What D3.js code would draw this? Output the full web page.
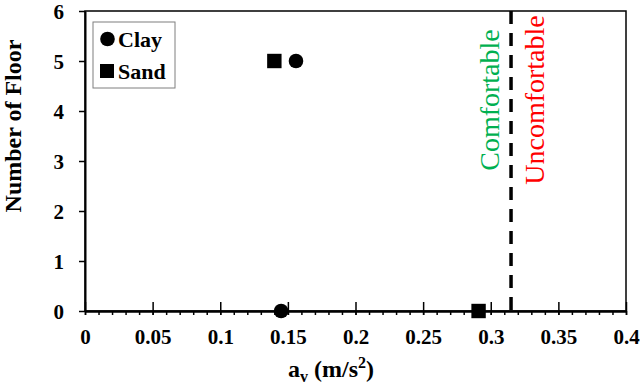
<html lang="en">
<head>
<script src="https://cdn.jsdelivr.net/npm/d3@7/dist/d3.min.js"></script>
</head>
<style>
body{margin:0;background:#fff;}
text{font-family:"Liberation Serif","Times New Roman",serif;}
</style>
<body>
<div id="drawarea"></div>
<script>
// values
const floors=[5,0]
const clayAv=[0.156,0.145]
const sandAv=[0.140,0.291]
const limitAv=0.315
const xTickVals=[0,0.05,0.1,0.15,0.2,0.25,0.3,0.35,0.4]
const xTickLabels=["0","0.05","0.1","0.15","0.2","0.25","0.3","0.35","0.4"]
const yTickVals=[0,1,2,3,4,5,6]
const legendNames=["Clay","Sand"]

const W=640,H=392
const m={left:85,right:626,top:11,bottom:311}

svg=d3.select("#drawarea").append("svg").attr("width",W).attr("height",H)

x=d3.scaleLinear().domain([0,0.4]).range([m.left,m.right])
y=d3.scaleLinear().domain([0,6]).range([m.bottom,m.top])

//plot frame
svg.append("rect").attr("x",m.left).attr("y",m.top).attr("width",m.right-m.left).attr("height",m.bottom-m.top)
  .style("fill","none").style("stroke","#000").style("stroke-width",1.5)

//x axis: minor ticks outside, major ticks crossing
gxMinor=svg.append("g").attr("transform","translate(0,"+m.bottom+")")
  .call(d3.axisBottom(x).ticks(40).tickSize(4).tickSizeOuter(0).tickFormat(""))
gxMajor=svg.append("g").attr("transform","translate(0,"+m.bottom+")")
  .call(d3.axisBottom(x).tickValues(xTickVals).tickSizeInner(-9).tickSizeOuter(0).tickPadding(18)
  .tickFormat((d,i)=>xTickLabels[i]))
gxMajor.selectAll(".tick line").clone().attr("y2",4)
svg.selectAll("g path.domain").style("stroke-width",2)
gxMinor.selectAll("line").style("stroke-width",1.5)
gxMajor.selectAll("line").style("stroke-width",1.5)
gxMajor.selectAll("text").style("font-size","21px").style("font-weight","bold")
  .style("font-family","'Liberation Serif',serif").attr("dy","0.71em")

//y axis
gy=svg.append("g").attr("transform","translate("+m.left+",0)")
  .call(d3.axisLeft(y).tickValues(yTickVals).tickSize(6).tickSizeOuter(0).tickPadding(15).tickFormat(d3.format("d")))
gy.select("path.domain").style("stroke-width",2)
gy.selectAll("line").style("stroke-width",1.5)
gy.selectAll("text").style("font-size","21px").style("font-weight","bold")
  .style("font-family","'Liberation Serif',serif").attr("dy","0.34em")

//comfort limit
svg.append("line").attr("x1",x(limitAv)).attr("x2",x(limitAv)).attr("y1",y(6)).attr("y2",y(0))
  .style("stroke","#000").style("stroke-width",3.5).style("stroke-dasharray","13,9")
svg.append("text").text("Comfortable").attr("transform","translate("+(x(limitAv)-12)+",100) rotate(-90)")
  .style("text-anchor","middle").style("font-size","28px").style("fill","#00b050")
svg.append("text").text("Uncomfortable").attr("transform","translate("+(x(limitAv)+33)+",100) rotate(-90)")
  .style("text-anchor","middle").style("font-size","28px").style("fill","#ff0000")

//points
pts=svg.append("g")
pts.selectAll("circle").data(floors).enter().append("circle")
  .attr("cx",(d,i)=>x(clayAv[i])).attr("cy",d=>y(d)).attr("r",7.3).style("fill","#000")
pts.selectAll("rect").data(floors).enter().append("rect")
  .attr("x",(d,i)=>x(sandAv[i])-7.2).attr("y",d=>y(d)-7.2).attr("width",14.4).attr("height",14.4).style("fill","#000")

//legend
lg=svg.append("g")
lg.append("rect").attr("x",93).attr("y",22).attr("width",82).attr("height",66)
  .style("fill","#fff").style("stroke","#7f7f7f").style("stroke-width",1)
lg.append("circle").attr("cx",107.5).attr("cy",39).attr("r",7.3).style("fill","#000")
lg.append("rect").attr("x",100).attr("y",64).attr("width",14).attr("height",14).style("fill","#000")
lg.selectAll("text").data(legendNames).enter().append("text").text(d=>d)
  .attr("x",118).attr("y",(d,i)=>46.5+i*32).style("font-size","22px").style("font-weight","bold")

//axis titles
svg.append("text").attr("transform","translate(21,126) rotate(-90)").style("text-anchor","middle")
  .style("font-size","24px").style("font-weight","bold").text("Number of Floor")
xt=svg.append("text").attr("x",331).attr("y",377).style("text-anchor","middle")
  .style("font-size","24px").style("font-weight","bold")
xt.append("tspan").text("a")
xt.append("tspan").text("v").attr("dy",5).style("font-size","16px")
xt.append("tspan").text(" (m/s").attr("dy",-5)
xt.append("tspan").text("2").attr("dy",-9).style("font-size","16px")
xt.append("tspan").text(")").attr("dy",9)
</script>
</body>
</html>
